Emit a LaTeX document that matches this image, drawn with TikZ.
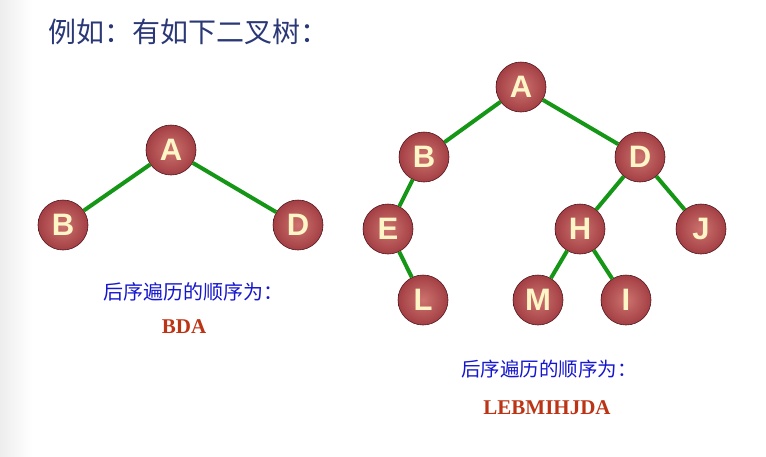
\documentclass[tikz,border=0pt]{standalone}
\usepackage{fontspec}
\setmainfont{Liberation Serif}
\setsansfont{Liberation Sans}
\newfontfamily\cjk{Noto Sans CJK SC}
\usetikzlibrary{positioning}
\definecolor{TitleBlue}{RGB}{42,56,118}
\definecolor{CaptionBlue}{RGB}{22,22,205}
\definecolor{OrderRed}{RGB}{188,52,22}
\definecolor{EdgeGreen}{RGB}{22,150,22}
\definecolor{BallIn}{RGB}{205,115,110}
\definecolor{BallMid}{RGB}{165,65,70}
\definecolor{BallOut}{RGB}{110,30,40}
\definecolor{BallRim}{RGB}{80,22,28}
\definecolor{LetterCream}{RGB}{255,246,200}
\pgfdeclareradialshading{treeball}{\pgfpoint{0bp}{0bp}}{%
  color(0bp)=(BallIn); color(24bp)=(BallMid); color(45bp)=(BallOut); color(50bp)=(BallOut)}

\begin{document}
\begin{tikzpicture}[x=1pt,y=-1pt,
    treenode/.style={circle,minimum size=50pt,inner sep=0pt,shading=treeball,
      draw=BallRim,line width=0.6pt,text=LetterCream,
      font=\sffamily\bfseries\fontsize{31}{31}\selectfont},
    treeedge/.style={EdgeGreen,line width=4pt},
    caption/.style={CaptionBlue,font=\cjk\fontsize{20}{20}\selectfont},
    order/.style={OrderRed,font=\rmfamily\bfseries\fontsize{21}{21}\selectfont}]
  \useasboundingbox (0,0) rectangle (766,456);
  \fill[left color=black!7,right color=white] (0,0) rectangle (32,456);
  \node[anchor=west,TitleBlue,font=\cjk\fontsize{28}{28}\selectfont] (title) at (45,32)
    {例如：有如下二叉树：};
  % small tree
  \node[treenode] (lA) at (171,150) {A};
  \node[treenode] (lB) at (63,225) {B};
  \node[treenode] (lD) at (298,225) {D};
  \draw[treeedge] (lA) -- (lB);
  \draw[treeedge] (lA) -- (lD);
  \node[caption] (lcap) at (193,292) {后序遍历的顺序为：};
  \node[order] (lorder) at (184,327) {BDA};
  % larger tree
  \node[treenode] (rA) at (521,87) {A};
  \node[treenode] (rB) at (424,157) {B};
  \node[treenode] (rD) at (640,157) {D};
  \node[treenode] (rE) at (388,229) {E};
  \node[treenode] (rH) at (580,229) {H};
  \node[treenode] (rJ) at (701,229) {J};
  \node[treenode] (rL) at (423,300) {L};
  \node[treenode] (rM) at (538,300) {M};
  \node[treenode] (rI) at (626,300) {I};
  \draw[treeedge] (rA) -- (rB);
  \draw[treeedge] (rA) -- (rD);
  \draw[treeedge] (rB) -- (rE);
  \draw[treeedge] (rE) -- (rL);
  \draw[treeedge] (rD) -- (rH);
  \draw[treeedge] (rD) -- (rJ);
  \draw[treeedge] (rH) -- (rM);
  \draw[treeedge] (rH) -- (rI);
  \node[caption,font=\cjk\fontsize{19.5}{19.5}\selectfont] (rcap) at (549,369) {后序遍历的顺序为：};
  \node[order] (rorder) at (547,408) {LEBMIHJDA};
\end{tikzpicture}
\end{document}
